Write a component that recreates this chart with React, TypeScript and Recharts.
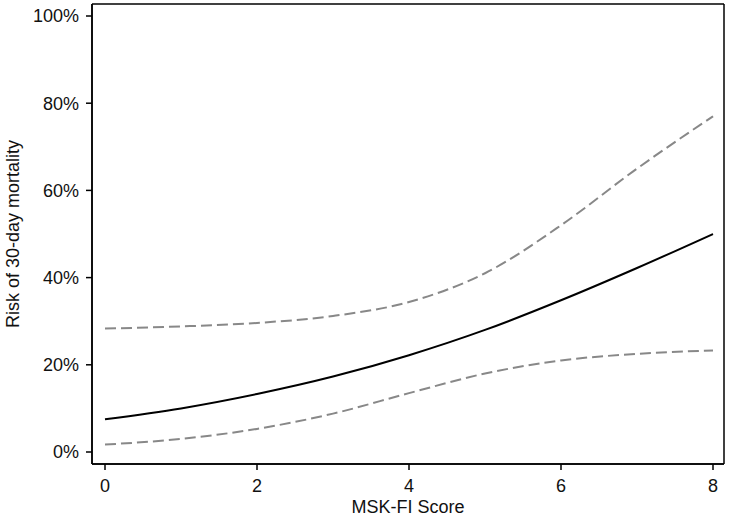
import { CartesianGrid, Line, LineChart, XAxis, YAxis } from 'recharts'

const scores = [0, 1, 2, 3, 4, 5, 6, 7, 8]
const riskEstimate = [7.5, 10, 13.3, 17.3, 22.2, 28, 34.8, 42.2, 50]
const upperBound = [28.3, 28.8, 29.6, 31.2, 34.4, 41, 52, 65, 77]
const lowerBound = [1.7, 3, 5.3, 8.8, 13.5, 18, 21, 22.5, 23.3]
const xTicks = [0, 2, 4, 6, 8]
const yTicks = [0, 20, 40, 60, 80, 100]

const data = scores.map((score, i) => ({
  score,
  risk: riskEstimate[i],
  upper: upperBound[i],
  lower: lowerBound[i],
}))

const font = 'Liberation Sans, Arial, sans-serif'
const tickStyle = { fill: '#111', fontSize: 18, fontFamily: font }

// frame around the plot area: grid lines only at its edges
const frameRows = ({ offset }: any) => [offset.top, offset.top + offset.height]
const frameCols = ({ offset }: any) => [offset.left, offset.left + offset.width]

export default function App() {
  return (
    <div style={{ position: 'absolute', left: 0, top: 0, background: '#fff' }}>
      <LineChart width={729} height={516} data={data} margin={{ top: 4, right: 5, left: 0, bottom: 0 }}>
        <CartesianGrid
          stroke="#000"
          strokeWidth={1.5}
          horizontalCoordinatesGenerator={frameRows}
          verticalCoordinatesGenerator={frameCols}
        />
        <XAxis
          dataKey="score"
          type="number"
          domain={[0, 8]}
          ticks={xTicks}
          padding={{ left: 13, right: 11 }}
          height={52}
          tick={tickStyle}
          tickSize={6}
          tickMargin={9}
          stroke="#000"
          strokeWidth={1.5}
          label={{ value: 'MSK-FI Score', position: 'insideBottom', offset: 3, style: { fill: '#111', fontSize: 18, fontFamily: font } }}
        />
        <YAxis
          type="number"
          domain={[0, 100]}
          ticks={yTicks}
          padding={{ top: 12, bottom: 12 }}
          width={92}
          tick={tickStyle}
          tickSize={6}
          tickMargin={7}
          tickFormatter={(v: number) => `${v}%`}
          stroke="#000"
          strokeWidth={1.5}
          label={{ value: 'Risk of 30-day mortality', angle: -90, position: 'insideLeft', offset: 13, style: { textAnchor: 'middle', fill: '#111', fontSize: 18, fontFamily: font } }}
        />
        <Line type="monotone" dataKey="upper" stroke="#888" strokeWidth={2} strokeDasharray="11 5" dot={false} isAnimationActive={false} />
        <Line type="monotone" dataKey="lower" stroke="#888" strokeWidth={2} strokeDasharray="11 5" dot={false} isAnimationActive={false} />
        <Line type="monotone" dataKey="risk" stroke="#000" strokeWidth={2} dot={false} isAnimationActive={false} />
      </LineChart>
    </div>
  )
}
